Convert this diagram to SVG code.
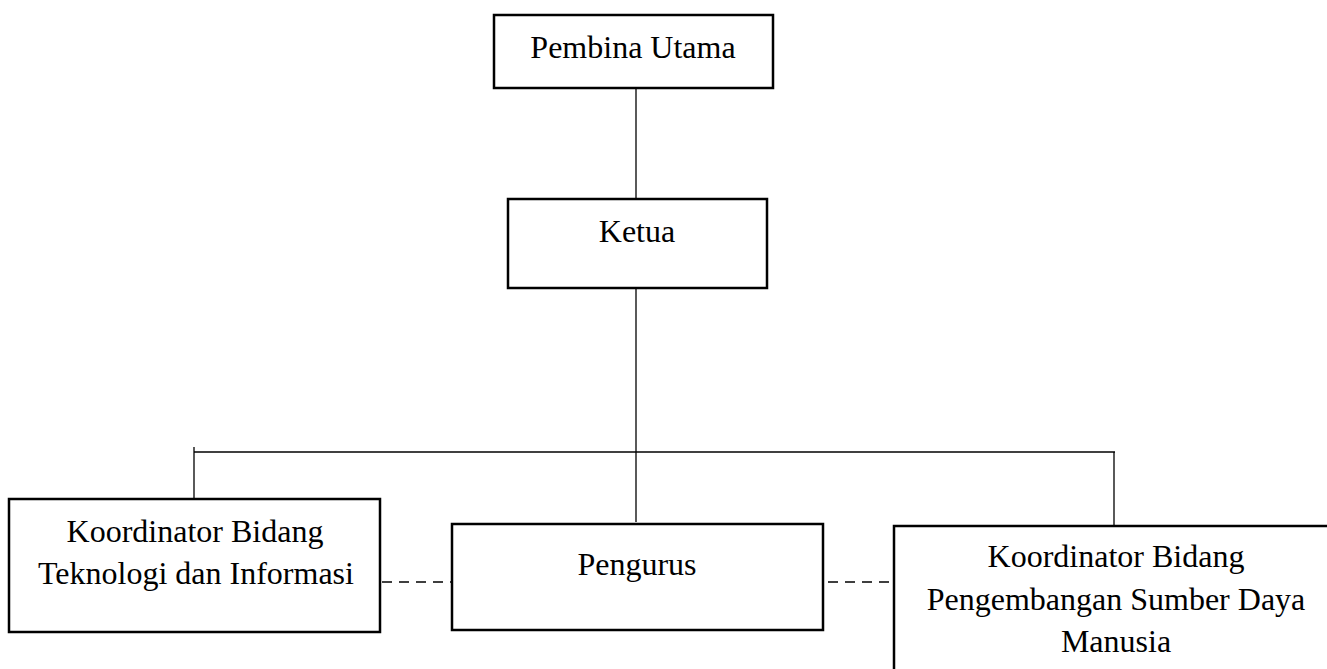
<svg xmlns="http://www.w3.org/2000/svg" width="1327" height="669" viewBox="0 0 1327 669">
<style>
.box{fill:#fff;stroke:#000;stroke-width:2.5}
.ln{stroke:#000;stroke-width:1.3;fill:none}
.dash{stroke:#000;stroke-width:1.6;fill:none;stroke-dasharray:10 7}
.t{font-family:"Liberation Serif","Times New Roman",serif;font-size:32px;fill:#000;text-anchor:middle}
</style>
<rect width="1327" height="669" fill="#fff"/>
<g id="connectors">
<line class="ln" x1="636" y1="88" x2="636" y2="199"/>
<line class="ln" x1="636" y1="288" x2="636" y2="452"/>
<line class="ln" x1="194" y1="452" x2="1115" y2="452"/>
<line class="ln" x1="194" y1="447" x2="194" y2="499"/>
<line class="ln" x1="636" y1="452" x2="636" y2="522"/>
<line class="ln" x1="1114" y1="452" x2="1114" y2="526"/>
<line class="dash" x1="382" y1="582" x2="452" y2="582"/>
<line class="dash" x1="828" y1="582" x2="894" y2="582"/>
</g>
<g id="pembina">
<rect class="box" x="494" y="15" width="279" height="73"/>
<text class="t" x="633" y="58">Pembina Utama</text>
</g>
<g id="ketua">
<rect class="box" x="508" y="199" width="259" height="89"/>
<text class="t" x="637" y="242">Ketua</text>
</g>
<g id="koordinator-ti">
<rect class="box" x="9" y="499" width="371" height="133"/>
<text class="t" x="195" y="542">Koordinator Bidang</text>
<text class="t" x="196" y="584">Teknologi dan Informasi</text>
</g>
<g id="pengurus">
<rect class="box" x="452" y="524" width="371" height="106"/>
<text class="t" x="637" y="575">Pengurus</text>
</g>
<g id="koordinator-psdm">
<rect class="box" x="894" y="526" width="444" height="160"/>
<text class="t" x="1116" y="567">Koordinator Bidang</text>
<text class="t" x="1116" y="610">Pengembangan Sumber Daya</text>
<text class="t" x="1116" y="652">Manusia</text>
</g>
</svg>
